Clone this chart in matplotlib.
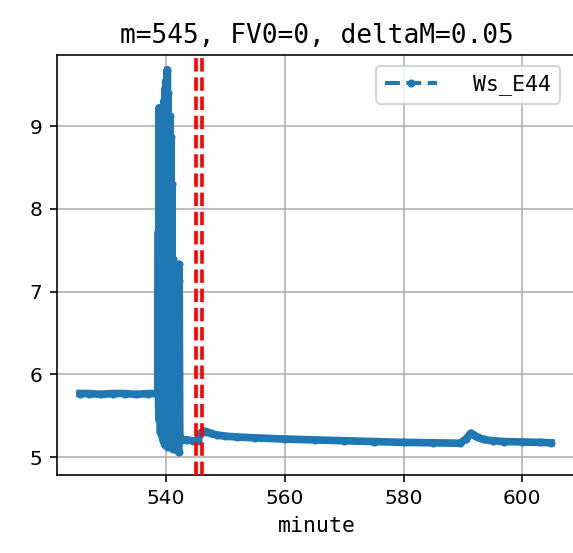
import matplotlib
matplotlib.use("Agg")
import matplotlib.pyplot as plt

# readings taken off the reference chart
minute = [525.5, 527.0, 529.0, 531.0, 533.0, 535.0, 537.0, 538.5, 538.6,
          538.70, 538.75, 538.80, 538.85, 538.90, 538.95, 539.00, 539.05,
          539.10, 539.15, 539.20, 539.25, 539.30, 539.35, 539.40, 539.45,
          539.50, 539.55, 539.60, 539.65, 539.70, 539.75, 539.80, 539.85,
          539.90, 539.95, 540.00, 540.05, 540.10, 540.15, 540.20, 540.25,
          540.30, 540.35, 540.40, 540.45, 540.50, 540.55, 540.60, 540.65,
          540.70, 540.75, 540.80, 540.85, 540.90, 540.95, 541.00, 541.05,
          541.10, 541.15, 541.20, 541.25, 541.30, 541.35, 541.40, 541.50,
          541.60, 541.70, 541.80, 541.90, 542.00, 542.10, 542.15, 542.20,
          542.30, 542.45, 542.60, 543.5, 544.5, 545.4, 545.7, 546.2, 546.8,
          547.5, 548.5, 550.0, 552.0, 555.0, 560.0, 565.0, 570.0, 575.0,
          580.0, 585.0, 589.5, 590.5, 591.3, 591.8, 592.5, 593.5, 595.0,
          597.0, 600.0, 603.0, 604.8]
ws_e44 = [5.77, 5.77, 5.76, 5.77, 5.77, 5.76, 5.77, 5.77, 5.77,
          7.72, 5.60, 9.22, 5.45, 8.95, 5.70, 9.15, 5.30,
          8.60, 5.55, 9.20, 5.40, 7.90, 5.25, 9.05, 5.50,
          8.40, 5.20, 9.30, 5.35, 8.80, 5.15, 9.45, 5.40,
          8.10, 5.25, 9.55, 5.30, 9.20, 5.45, 9.68, 5.20,
          9.40, 5.12, 9.10, 5.30, 8.95, 5.15, 9.12, 5.25,
          8.70, 5.20, 8.87, 5.35, 7.95, 5.12, 8.30, 5.30,
          7.40, 5.10, 6.90, 5.25, 6.40, 5.12, 5.90, 5.10,
          5.80, 5.15, 5.70, 5.20, 5.60, 5.06, 7.33, 7.13,
          5.25, 5.22, 5.21, 5.21, 5.20, 5.20, 5.28, 5.32, 5.31,
          5.29, 5.27, 5.255, 5.245, 5.235, 5.22, 5.21, 5.20, 5.19,
          5.18, 5.175, 5.17, 5.22, 5.29, 5.27, 5.24, 5.215, 5.20,
          5.19, 5.185, 5.18, 5.175]
marks = [545, 546]

fig = plt.figure(figsize=(573 / 145, 553 / 145), dpi=145)
ax = fig.add_axes([0.0988, 0.1416, 0.908, 0.7593])

# thick underlay stands in for the very dense sampling of the original
ax.plot(minute, ws_e44, "-", color="#1f77b4", lw=3.8, solid_joinstyle="round")
ax.plot(minute, ws_e44, "--.", color="#1f77b4", lw=2, label="Ws_E44")
for m in marks:
    ax.axvline(m, color="#ff0000", linestyle="--", lw=1.8, zorder=3)

ax.set_xlim(521.55, 609.2)
ax.set_ylim(4.79, 9.86)
ax.grid(True)
ax.set_title("m=545, FV0=0, deltaM=0.05", family="DejaVu Sans Mono", size=13)
ax.set_xlabel("minute", family="DejaVu Sans Mono", size=10.7)
ax.legend(loc="upper right", bbox_to_anchor=(0.988, 1.0),
          prop={"family": "DejaVu Sans Mono", "size": 10.7},
          handlelength=2.4, handletextpad=1.7)

fig.savefig("out.png", dpi=145)
